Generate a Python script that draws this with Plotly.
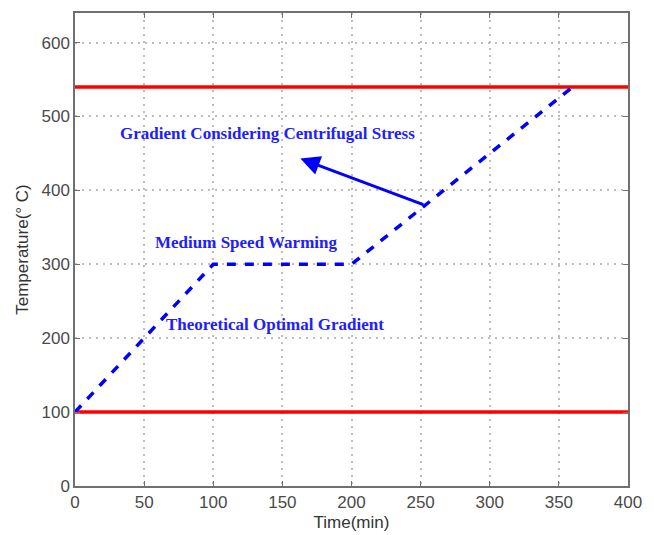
import plotly.graph_objects as go

# Data
profile_x = [0, 100, 200, 360]
profile_y = [100, 300, 300, 540]
upper_limit = 540
lower_limit = 100
x_range = [0, 400]
y_range = [0, 640]
x_ticks = [0, 50, 100, 150, 200, 250, 300, 350, 400]
y_ticks = [0, 100, 200, 300, 400, 500, 600]

labels = [
    ("Gradient Considering Centrifugal Stress", 139, 477),
    ("Medium Speed Warming", 124, 330),
    ("Theoretical Optimal Gradient", 145, 218),
]
arrow_tail = (253, 380)
arrow_head = (163, 443)

fig = go.Figure()
fig.add_trace(go.Scatter(x=x_range, y=[upper_limit]*2, mode="lines",
                         line=dict(color="#ff0000", width=3.5), showlegend=False))
fig.add_trace(go.Scatter(x=x_range, y=[lower_limit]*2, mode="lines",
                         line=dict(color="#ff0000", width=3.5), showlegend=False))
fig.add_trace(go.Scatter(x=profile_x, y=profile_y, mode="lines",
                         line=dict(color="#0000ff", width=3.5, dash="9px,9px"), showlegend=False))

for text, x, y in labels:
    fig.add_annotation(x=x, y=y, text="<b>" + text + "</b>", showarrow=False,
                       font=dict(family="Liberation Serif", size=17, color="#2020ff"))

fig.add_annotation(x=arrow_head[0], y=arrow_head[1], ax=arrow_tail[0], ay=arrow_tail[1],
                   xref="x", yref="y", axref="x", ayref="y", text="", showarrow=True,
                   arrowhead=2, arrowsize=1.3, arrowwidth=3, arrowcolor="#0000ff")

axis_common = dict(showline=True, linecolor="#707070", linewidth=1.5, mirror="ticks",
                   ticks="inside", ticklen=5, tickcolor="#707070", automargin=False,
                   showgrid=True, gridcolor="#bdbdbd", griddash="2px,5px", gridwidth=1.5,
                   zeroline=False, tickfont=dict(family="Liberation Sans", size=17, color="#4a4a4a"))

fig.update_xaxes(range=x_range, tickvals=x_ticks, title=dict(text="Time(min)", standoff=5,
                 font=dict(family="Liberation Sans", size=17, color="#333333")), **axis_common)
fig.update_yaxes(range=y_range, tickvals=y_ticks, title=dict(text="Temperature(° C)", standoff=9,
                 font=dict(family="Liberation Sans", size=17, color="#333333")), **axis_common)

fig.update_layout(width=654, height=535, margin=dict(l=75, r=26, t=13, b=49),
                  plot_bgcolor="white", paper_bgcolor="white")

fig.write_html("out.html")
